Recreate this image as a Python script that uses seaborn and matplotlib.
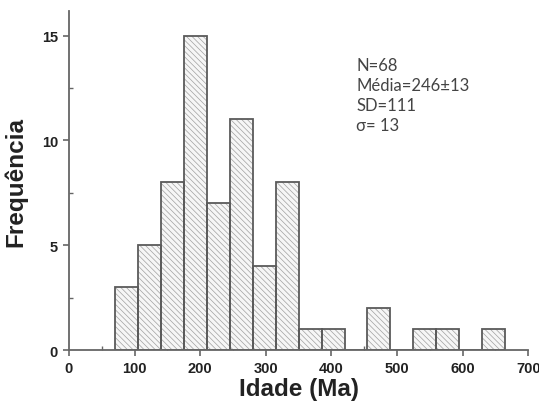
import numpy as np
import matplotlib
matplotlib.use("Agg")
import matplotlib.pyplot as plt
import seaborn as sns

# Bordas das classes (Ma) e frequências
bordas = [70, 105, 140, 175, 210, 245, 280, 315, 350, 385, 420, 455, 490, 525, 560, 595, 630, 665]
frequencias = [3, 5, 8, 15, 7, 11, 4, 8, 1, 1, 0, 2, 0, 1, 1, 0, 1]
centros = [(a + b) / 2 for a, b in zip(bordas[:-1], bordas[1:])]

sns.set_style("ticks")
plt.rcParams['font.family'] = ['Liberation Sans', 'DejaVu Sans']
plt.rcParams['hatch.linewidth'] = 0.5

fig = plt.figure(figsize=(5.39, 4.14), dpi=100)
ax = fig.add_axes([0.128, 0.152, 0.852, 0.818])

# preenchimento hachurado (cor da hachura = cor da borda)
sns.histplot(x=centros, weights=frequencias, bins=bordas, ax=ax,
             color='#f6f6f6', edgecolor='#a0a0a0', linewidth=0, alpha=1)
for p in ax.patches:
    p.set_hatch('\\\\\\\\\\\\')
# contornos
sns.histplot(x=centros, weights=frequencias, bins=bordas, ax=ax, fill=False,
             color='#5a5a5a', linewidth=1.3)

ax.set_xlim(0, 700)
ax.set_ylim(0, 16.15)
ax.set_xticks(range(0, 701, 100))
ax.set_xticks(range(50, 700, 100), minor=True)
ax.set_yticks([0, 5, 10, 15])
ax.set_yticks([2.5, 7.5, 12.5], minor=True)

for s in ['top', 'right']:
    ax.spines[s].set_visible(False)
for s in ['left', 'bottom']:
    ax.spines[s].set_color('#666666')
    ax.spines[s].set_linewidth(1.3)

ax.tick_params(axis='both', which='major', length=4, width=1.2, color='#666666',
               direction='out', labelsize=10.5, labelcolor='#222222', pad=4)
ax.tick_params(axis='both', which='minor', length=3, width=1.0, color='#666666',
               direction='in')
for lab in ax.get_xticklabels() + ax.get_yticklabels():
    lab.set_fontweight('bold')

ax.set_xlabel("Idade (Ma)", fontsize=17.5, fontweight='bold', color='#222222', labelpad=1)
ax.set_ylabel("Frequência", fontsize=17.5, fontweight='bold', color='#222222', labelpad=10)

ax.text(0.626, 0.865, "N=68\nMédia=246±13\nSD=111\nσ= 13", transform=ax.transAxes,
        ha='left', va='top', fontsize=12, color='#444444', linespacing=1.3,
        family=['Lato', 'DejaVu Sans'])

fig.savefig("out.png", dpi=100)
